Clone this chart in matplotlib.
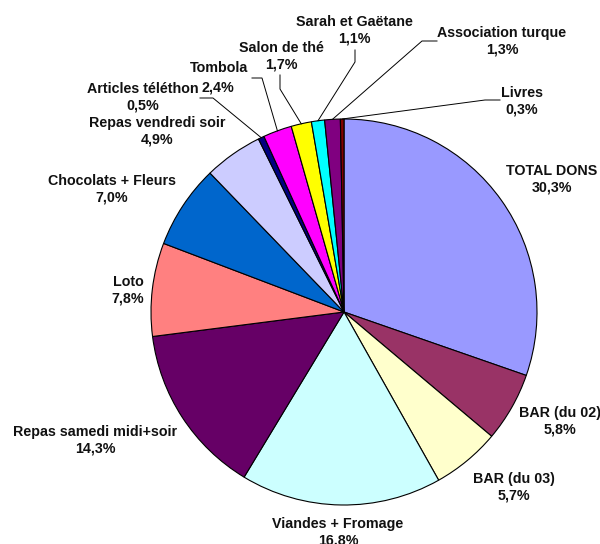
import numpy as np
import matplotlib.pyplot as plt

# donnees
labels = ['TOTAL DONS', 'BAR (du 02)', 'BAR (du 03)', 'Viandes + Fromage',
          'Repas samedi midi+soir', 'Loto', 'Chocolats + Fleurs',
          'Repas vendredi soir', 'Articles téléthon', 'Tombola',
          'Salon de thé', 'Sarah et Gaëtane', 'Association turque', 'Livres']
values = [30.3, 5.8, 5.7, 16.8, 14.3, 7.8, 7.0, 4.9, 0.5, 2.4, 1.7, 1.1, 1.3, 0.3]
colors = ['#9999FF', '#993366', '#FFFFCC', '#CCFFFF', '#660066', '#FF8080',
          '#0066CC', '#CCCCFF', '#000080', '#FF00FF', '#FFFF00', '#00FFFF',
          '#800080', '#800000']

W, H = 600, 544
cx, cy, R = 344, 312, 193
FS = 10.3

# position du texte (pixels depuis le haut) et coude du trait de rappel
text_pos = {
    'TOTAL DONS': (552, 179), 'BAR (du 02)': (560, 421), 'BAR (du 03)': (514, 487),
    'Viandes + Fromage': (338, 532), 'Repas samedi midi+soir': (95, 440),
    'Loto': (128, 290), 'Chocolats + Fleurs': (112, 189),
    'Repas vendredi soir': (157, 131), 'Articles téléthon': (143, 97),
    'Tombola': (219, 78), 'Salon de thé': (281, 56), 'Sarah et Gaëtane': (354, 30),
    'Association turque': (502, 41), 'Livres': (522, 101),
}
leaders = {
    'Articles téléthon': [(213, 98), (200, 98)],
    'Tombola': [(262, 78), (252, 78)],
    'Salon de thé': [(280, 89), (280, 75)],
    'Sarah et Gaëtane': [(355, 62), (355, 50)],
    'Association turque': [(422, 41), (437, 41)],
    'Livres': [(485, 100), (500, 100)],
}

fig = plt.figure(figsize=(W / 100, H / 100), dpi=100)
ax = fig.add_axes([0, 0, 1, 1])

wedges, _ = ax.pie(values, colors=colors, startangle=90, counterclock=False,
                   radius=R, center=(cx, H - cy),
                   wedgeprops=dict(edgecolor='black', linewidth=0.8))
ax.set_xlim(0, W)
ax.set_ylim(0, H)
ax.set_aspect('equal')
ax.axis('off')

style = dict(ha='center', va='center', fontsize=FS, fontweight='bold',
             family='Liberation Sans', color='#111111')

for w, lab, v in zip(wedges, labels, values):
    tx, ty = text_pos[lab]
    pct = f"{v:.1f}%".replace('.', ',')
    if lab == 'Tombola':
        # le pourcentage est a cote de "Articles téléthon"
        ax.text(tx, H - 68, lab, **style)
        ax.text(tx - 1, H - 88, pct, **style)
    else:
        ax.text(tx, H - ty, f"{lab}\n{pct}", linespacing=1.2, **style)
    if lab in leaders:
        ang = np.deg2rad((w.theta1 + w.theta2) / 2)
        sx = cx + R * np.cos(ang)
        sy = (H - cy) + R * np.sin(ang)
        pts = [(sx, sy)] + [(px, H - py) for px, py in leaders[lab]]
        ax.plot([p[0] for p in pts], [p[1] for p in pts], color='black',
                linewidth=0.7)

fig.savefig('out.png', dpi=100)
